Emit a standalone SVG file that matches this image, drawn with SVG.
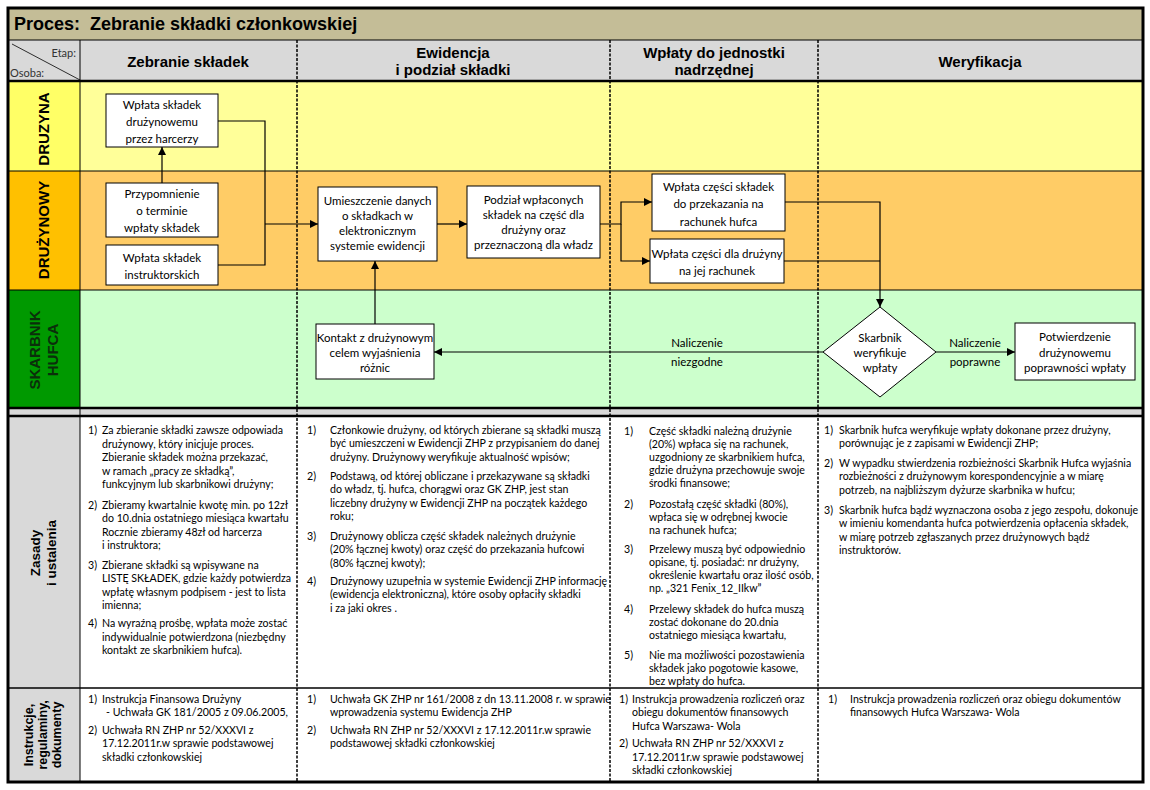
<svg xmlns="http://www.w3.org/2000/svg" width="1150" height="790" viewBox="0 0 1150 790">
<defs>
<marker id="arr" viewBox="0 0 10 10" refX="10" refY="5" markerWidth="9" markerHeight="8" markerUnits="userSpaceOnUse" orient="auto"><path d="M0,0 L10,5 L0,10 z" fill="#000"/></marker>
<style>
.hd{font-family:"Liberation Sans",Arial,sans-serif;font-weight:bold;font-size:15px;fill:#000;text-anchor:middle}
.lane{font-family:"Liberation Sans",Arial,sans-serif;font-weight:bold;font-size:15px;text-anchor:middle}
.nt{font-family:Lato,"Open Sans",sans-serif;font-size:11.5px;fill:#000;text-anchor:middle}
.bt{font-family:Lato,"Open Sans",sans-serif;font-size:10.6px;fill:#000}
.box{fill:#fff;stroke:#000;stroke-width:1}
.cn{fill:none;stroke:#000;stroke-width:1.2}
.dash{stroke:#000;stroke-width:1.5;stroke-dasharray:3 1.5}
</style>
</defs>
<rect x="0" y="0" width="1150" height="790" fill="#fff"/>
<!-- title -->
<rect x="8" y="8" width="1135" height="32" fill="#C4BD97"/>
<text x="14" y="30" font-family="Liberation Sans,Arial,sans-serif" font-weight="bold" font-size="18" fill="#000" xml:space="preserve">Proces:  Zebranie składki członkowskiej</text>
<!-- header -->
<rect x="8" y="40" width="1135" height="41" fill="#D9D9D9"/>
<line x1="12" y1="44" x2="80" y2="80" stroke="#000" stroke-width="0.8"/>
<text x="76" y="57" font-family="Lato,sans-serif" font-size="11" fill="#333" text-anchor="end">Etap:</text>
<text x="10" y="77" font-family="Lato,sans-serif" font-size="11" fill="#333">Osoba:</text>
<text class="hd" x="188" y="67">Zebranie składek</text>
<text class="hd" x="453" y="58">Ewidencja</text>
<text class="hd" x="453" y="75">i podział składki</text>
<text class="hd" x="714" y="58">Wpłaty do jednostki</text>
<text class="hd" x="714" y="75">nadrzędnej</text>
<text class="hd" x="980" y="67">Weryfikacja</text>
<!-- lanes -->
<rect x="80" y="81" width="1063" height="90" fill="#FFFF99"/>
<rect x="8" y="81" width="72" height="90" fill="#FFFF66"/>
<rect x="80" y="171" width="1063" height="119" fill="#FFCC66"/>
<rect x="8" y="171" width="72" height="119" fill="#FFC000"/>
<rect x="80" y="290" width="1063" height="118" fill="#CCFFCC"/>
<rect x="8" y="290" width="72" height="118" fill="#009900"/>
<text class="lane" transform="translate(49,129) rotate(-90)" fill="#000">DRUZYNA</text>
<text class="lane" transform="translate(49,230) rotate(-90)" fill="#000">DRUŻYNOWY</text>
<text class="lane" transform="translate(40,350) rotate(-90)" fill="#0b2e0b">SKARBNIK</text>
<text class="lane" transform="translate(58,350) rotate(-90)" fill="#0b2e0b">HUFCA</text>
<line x1="8" y1="171" x2="1143" y2="171" stroke="#000" stroke-width="1"/>
<line x1="8" y1="290" x2="1143" y2="290" stroke="#000" stroke-width="1.2"/>
<!-- gray band -->
<rect x="8" y="408" width="1135" height="8" fill="#D9D9D9"/>
<!-- zasady / instrukcje -->
<rect x="80" y="416" width="1063" height="366" fill="#fff"/>
<rect x="8" y="416" width="72" height="366" fill="#D9D9D9"/>
<text class="lane" transform="translate(40,553) rotate(-90)" fill="#000" style="font-size:13.5px">Zasady</text>
<text class="lane" transform="translate(56,553) rotate(-90)" fill="#000" style="font-size:13.5px">i ustalenia</text>
<text class="lane" transform="translate(33,735) rotate(-90)" fill="#000" style="font-size:12.5px">Instrukcje,</text>
<text class="lane" transform="translate(47,735) rotate(-90)" fill="#000" style="font-size:12.5px">regulaminy,</text>
<text class="lane" transform="translate(61,735) rotate(-90)" fill="#000" style="font-size:12.5px">dokumenty</text>
<!-- grid lines -->
<line x1="8" y1="40" x2="1143" y2="40" stroke="#000" stroke-width="1"/>
<line x1="8" y1="81" x2="1143" y2="81" stroke="#000" stroke-width="2.5"/>
<line x1="8" y1="408" x2="1143" y2="408" stroke="#000" stroke-width="2.5"/>
<line x1="8" y1="416" x2="1143" y2="416" stroke="#000" stroke-width="2.5"/>
<line x1="8" y1="688" x2="1143" y2="688" stroke="#000" stroke-width="1.5"/>
<line x1="80" y1="40" x2="80" y2="782" stroke="#000" stroke-width="1"/>
<line class="dash" x1="297" y1="40" x2="297" y2="782"/>
<line class="dash" x1="610" y1="40" x2="610" y2="782"/>
<line class="dash" x1="818" y1="40" x2="818" y2="782"/>
<rect x="8" y="8" width="1135" height="774" fill="none" stroke="#000" stroke-width="3"/>

<!-- connectors -->
<g id="connectors">
<path class="cn" d="M218,121 H265 V265 H218"/>
<path class="cn" d="M265,224 H318" marker-end="url(#arr)"/>
<path class="cn" d="M162,183 V147" marker-end="url(#arr)"/>
<path class="cn" d="M437,224 H467" marker-end="url(#arr)"/>
<path class="cn" d="M600,224 H621 V202 H652" marker-end="url(#arr)"/>
<path class="cn" d="M621,224 V261 H650" marker-end="url(#arr)"/>
<path class="cn" d="M785,202 H880 V307" marker-end="url(#arr)"/>
<path class="cn" d="M784,261 H880"/>
<path class="cn" d="M823,352 H434" marker-end="url(#arr)"/>
<path class="cn" d="M936,352 H1015" marker-end="url(#arr)"/>
<path class="cn" d="M375,324 V261" marker-end="url(#arr)"/>
<text class="nt" x="697" y="347">Naliczenie</text>
<text class="nt" x="697" y="366">niezgodne</text>
<text class="nt" x="975" y="347">Naliczenie</text>
<text class="nt" x="975" y="366">poprawne</text>
</g>

<!-- nodes -->
<g id="n1"><rect class="box" x="106" y="94" width="112" height="53"/>
<text class="nt" x="162" y="109">Wpłata składek</text><text class="nt" x="162" y="126">drużynowemu</text><text class="nt" x="162" y="143">przez harcerzy</text></g>
<g id="n2"><rect class="box" x="106" y="183" width="112" height="54"/>
<text class="nt" x="162" y="198">Przypomnienie</text><text class="nt" x="162" y="215">o terminie</text><text class="nt" x="162" y="232">wpłaty składek</text></g>
<g id="n3"><rect class="box" x="106" y="245" width="112" height="40"/>
<text class="nt" x="162" y="262">Wpłata składek</text><text class="nt" x="162" y="279">instruktorskich</text></g>
<g id="n4"><rect class="box" x="318" y="187" width="119" height="74"/>
<text class="nt" x="377.5" y="205">Umieszczenie danych</text><text class="nt" x="377.5" y="220">o składkach w</text><text class="nt" x="377.5" y="235">elektronicznym</text><text class="nt" x="377.5" y="250">systemie ewidencji</text></g>
<g id="n5"><rect class="box" x="467" y="186" width="133" height="72"/>
<text class="nt" x="533.5" y="204">Podział wpłaconych</text><text class="nt" x="533.5" y="219">składek na część dla</text><text class="nt" x="533.5" y="234">drużyny oraz</text><text class="nt" x="533.5" y="249">przeznaczoną dla władz</text></g>
<g id="n6"><rect class="box" x="652" y="174" width="133" height="57"/>
<text class="nt" x="718.5" y="191">Wpłata części składek</text><text class="nt" x="718.5" y="208">do przekazania na</text><text class="nt" x="718.5" y="226">rachunek hufca</text></g>
<g id="n7"><rect class="box" x="650" y="239" width="134" height="44"/>
<text class="nt" x="717" y="258">Wpłata części dla drużyny</text><text class="nt" x="717" y="275">na jej rachunek</text></g>
<g id="n8"><path class="box" d="M880,307 L936,352 L880,397 L823,352 Z"/>
<text class="nt" x="880" y="342">Skarbnik</text><text class="nt" x="880" y="357">weryfikuje</text><text class="nt" x="880" y="372">wpłaty</text></g>
<g id="n9"><rect class="box" x="1015" y="323" width="120" height="57"/>
<text class="nt" x="1075" y="341">Potwierdzenie</text><text class="nt" x="1075" y="357">drużynowemu</text><text class="nt" x="1075" y="372">poprawności wpłaty</text></g>
<g id="n10"><rect class="box" x="316" y="324" width="118" height="55"/>
<text class="nt" x="375" y="342">Kontakt z drużynowym</text><text class="nt" x="375" y="357">celem wyjaśnienia</text><text class="nt" x="375" y="372">różnic</text></g>

<!-- zasady texts -->
<g id="zasady1" class="bt">
<text x="88" y="434">1)</text>
<text x="102" y="434">Za zbieranie składki zawsze odpowiada</text>
<text x="102" y="447.6">drużynowy, który inicjuje proces.</text>
<text x="102" y="461.2">Zbieranie składek można przekazać,</text>
<text x="102" y="474.8">w ramach „pracy ze składką”,</text>
<text x="102" y="488.4">funkcyjnym lub skarbnikowi drużyny;</text>
<text x="88" y="508.5">2)</text>
<text x="102" y="508.5">Zbieramy kwartalnie kwotę min. po 12zł</text>
<text x="102" y="522.1">do 10.dnia ostatniego miesiąca kwartału</text>
<text x="102" y="535.7">Rocznie zbieramy 48zł od harcerza</text>
<text x="102" y="549.3">i instruktora;</text>
<text x="88" y="568.5">3)</text>
<text x="102" y="568.5">Zbierane składki są wpisywane na</text>
<text x="102" y="582.1">LISTĘ SKŁADEK, gdzie każdy potwierdza</text>
<text x="102" y="595.7">wpłatę własnym podpisem - jest to lista</text>
<text x="102" y="609.3">imienna;</text>
<text x="88" y="627">4)</text>
<text x="102" y="627">Na wyraźną prośbę, wpłata może zostać</text>
<text x="102" y="640.6">indywidualnie potwierdzona (niezbędny</text>
<text x="102" y="654.2">kontakt ze skarbnikiem hufca).</text>
</g>
<g id="zasady2" class="bt">
<text x="307" y="434">1)</text>
<text x="330" y="434">Członkowie drużyny, od których zbierane są składki muszą</text>
<text x="330" y="447.3">być umieszczeni w Ewidencji ZHP z przypisaniem do danej</text>
<text x="330" y="460.6">drużyny. Drużynowy weryfikuje aktualność wpisów;</text>
<text x="307" y="480">2)</text>
<text x="330" y="480">Podstawą, od której obliczane i przekazywane są składki</text>
<text x="330" y="493.3">do władz, tj. hufca, chorągwi oraz GK ZHP, jest stan</text>
<text x="330" y="506.6">liczebny drużyny w Ewidencji ZHP na początek każdego</text>
<text x="330" y="519.9">roku;</text>
<text x="307" y="540">3)</text>
<text x="330" y="540">Drużynowy oblicza część składek należnych drużynie</text>
<text x="330" y="553.3">(20% łącznej kwoty) oraz część do przekazania hufcowi</text>
<text x="330" y="566.6">(80% łącznej kwoty);</text>
<text x="307" y="585">4)</text>
<text x="330" y="585">Drużynowy uzupełnia w systemie Ewidencji ZHP informację</text>
<text x="330" y="598.3">(ewidencja elektroniczna), które osoby opłaciły składki</text>
<text x="330" y="611.6">i za jaki okres .</text>
</g>
<g id="zasady3" class="bt">
<text x="624" y="435">1)</text>
<text x="649" y="435">Część składki należną drużynie</text>
<text x="649" y="448">(20%) wpłaca się na rachunek,</text>
<text x="649" y="461">uzgodniony ze skarbnikiem hufca,</text>
<text x="649" y="474">gdzie drużyna przechowuje swoje</text>
<text x="649" y="487">środki finansowe;</text>
<text x="624" y="508">2)</text>
<text x="649" y="508">Pozostałą część składki (80%),</text>
<text x="649" y="521">wpłaca się w odrębnej kwocie</text>
<text x="649" y="534">na rachunek hufca;</text>
<text x="624" y="553">3)</text>
<text x="649" y="553">Przelewy muszą być odpowiednio</text>
<text x="649" y="566">opisane, tj. posiadać: nr drużyny,</text>
<text x="649" y="579">określenie kwartału oraz ilość osób,</text>
<text x="649" y="592">np. „321 Fenix_12_IIkw”</text>
<text x="624" y="613">4)</text>
<text x="649" y="613">Przelewy składek do hufca muszą</text>
<text x="649" y="626">zostać dokonane do 20.dnia</text>
<text x="649" y="639">ostatniego miesiąca kwartału,</text>
<text x="624" y="659">5)</text>
<text x="649" y="659">Nie ma możliwości pozostawienia</text>
<text x="649" y="672">składek jako pogotowie kasowe,</text>
<text x="649" y="685">bez wpłaty do hufca.</text>
</g>
<g id="zasady4" class="bt">
<text x="824" y="434">1)</text>
<text x="839" y="434">Skarbnik hufca weryfikuje wpłaty dokonane przez drużyny,</text>
<text x="839" y="447.3">porównując je z zapisami w Ewidencji ZHP;</text>
<text x="824" y="467">2)</text>
<text x="839" y="467">W wypadku stwierdzenia rozbieżności Skarbnik Hufca wyjaśnia</text>
<text x="839" y="480.3">rozbieżności z drużynowym korespondencyjnie a w miarę</text>
<text x="839" y="493.6">potrzeb, na najbliższym dyżurze skarbnika w hufcu;</text>
<text x="824" y="514">3)</text>
<text x="839" y="514">Skarbnik hufca bądź wyznaczona osoba z jego zespołu, dokonuje</text>
<text x="839" y="527.3">w imieniu komendanta hufca potwierdzenia opłacenia składek,</text>
<text x="839" y="540.6">w miarę potrzeb zgłaszanych przez drużynowych bądź</text>
<text x="839" y="553.9">instruktorów.</text>
</g>
<!-- instrukcje texts -->
<g id="instr1" class="bt">
<text x="88" y="702.5">1)</text>
<text x="102" y="702.5">Instrukcja Finansowa Drużyny</text>
<text x="106" y="716">- Uchwała GK 181/2005 z 09.06.2005,</text>
<text x="88" y="733.5">2)</text>
<text x="102" y="733.5">Uchwała RN ZHP nr 52/XXXVI z</text>
<text x="102" y="747">17.12.2011r.w sprawie podstawowej</text>
<text x="102" y="760.5">składki członkowskiej</text>
</g>
<g id="instr2" class="bt">
<text x="307" y="702.5">1)</text>
<text x="330" y="702.5">Uchwała GK ZHP nr 161/2008 z dn 13.11.2008 r. w sprawie</text>
<text x="330" y="716">wprowadzenia systemu Ewidencja ZHP</text>
<text x="307" y="733.5">2)</text>
<text x="330" y="733.5">Uchwała RN ZHP nr 52/XXXVI z 17.12.2011r.w sprawie</text>
<text x="330" y="747">podstawowej składki członkowskiej</text>
</g>
<g id="instr3" class="bt">
<text x="619" y="702.5">1)</text>
<text x="632" y="702.5">Instrukcja prowadzenia rozliczeń oraz</text>
<text x="632" y="716">obiegu dokumentów finansowych</text>
<text x="632" y="729.5">Hufca Warszawa- Wola</text>
<text x="619" y="747">2)</text>
<text x="632" y="747">Uchwała RN ZHP nr 52/XXXVI z</text>
<text x="632" y="760.5">17.12.2011r.w sprawie podstawowej</text>
<text x="632" y="774">składki członkowskiej</text>
</g>
<g id="instr4" class="bt">
<text x="828" y="702.5">1)</text>
<text x="850" y="702.5">Instrukcja prowadzenia rozliczeń oraz obiegu dokumentów</text>
<text x="850" y="716">finansowych Hufca Warszawa- Wola</text>
</g>
</svg>
